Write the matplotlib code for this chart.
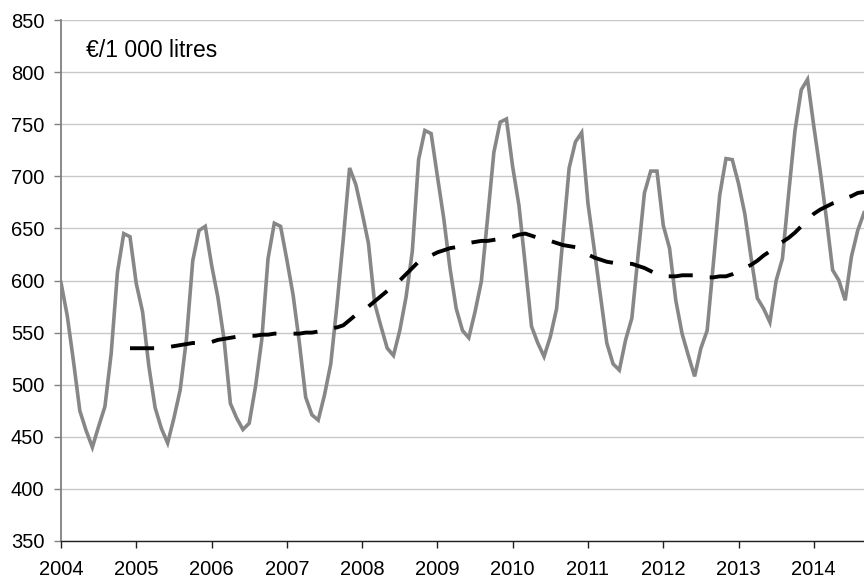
import matplotlib
matplotlib.use("Agg")
import matplotlib.pyplot as plt
import numpy as np

plt.rcParams['font.family'] = ['Liberation Sans', 'DejaVu Sans']

# Monthly price, €/1 000 litres, from Jan 2004
price = [
    598, 566, 522, 475, 456, 440, 460, 479, 530, 608, 645, 642,   # 2004
    597, 570, 518, 478, 458, 444, 468, 495, 544, 619, 648, 652,   # 2005
    615, 584, 543, 482, 468, 457, 463, 498, 543, 621, 655, 652,   # 2006
    620, 586, 540, 488, 471, 466, 490, 520, 577, 640, 708, 692,   # 2007
    665, 636, 578, 556, 535, 528, 552, 584, 628, 716, 744, 741,   # 2008
    700, 660, 612, 573, 552, 545, 570, 599, 660, 723, 752, 755,   # 2009
    709, 672, 615, 556, 540, 527, 546, 573, 640, 708, 733, 742,   # 2010
    674, 630, 585, 540, 520, 514, 543, 564, 625, 684, 705, 705,   # 2011
    653, 631, 581, 549, 528, 508, 535, 552, 617, 682, 717, 716,   # 2012
    693, 664, 622, 583, 573, 560, 600, 621, 684, 744, 783, 793,   # 2013
    748, 706, 660, 610, 600, 581, 623, 648, 665,                  # 2014
]

# 12-month trend, starting Dec 2004 (month index 11)
trend_start = 11
trend = [
    535,                                                          # Dec 2004
    535, 535, 535, 535, 536, 536, 537, 538, 539, 540, 540, 541,   # 2005
    541, 543, 544, 545, 546, 546, 547, 547, 548, 548, 549, 549,   # 2006
    549, 549, 549, 550, 550, 551, 552, 554, 555, 557, 562, 567,   # 2007
    571, 575, 580, 585, 590, 595, 600, 606, 612, 618, 621, 624,   # 2008
    627, 629, 631, 632, 634, 636, 637, 638, 638, 639, 640, 641,   # 2009
    642, 644, 645, 643, 641, 639, 638, 636, 634, 633, 632, 628,   # 2010
    625, 622, 620, 618, 617, 616, 616, 616, 614, 612, 609, 606,   # 2011
    604, 604, 604, 605, 605, 605, 604, 603, 603, 604, 604, 606,   # 2012
    609, 612, 615, 619, 624, 628, 633, 637, 641, 646, 652, 658,   # 2013
    664, 668, 671, 674, 676, 679, 681, 684, 685,                  # 2014
]

years = ['2004', '2005', '2006', '2007', '2008', '2009',
         '2010', '2011', '2012', '2013', '2014']
unit_label = '€/1 000 litres'

W, H = 864, 583
fig = plt.figure(figsize=(W / 100, H / 100), dpi=100)
ax = fig.add_axes([61 / W, 1 - 541 / H, (W - 61) / W, (541 - 20) / H])

x_price = np.arange(len(price))
x_trend = np.arange(len(trend)) + trend_start

ax.plot(x_price, price, color='#878787', lw=2.6, solid_joinstyle='miter', zorder=3)
ax.plot(x_trend, trend, color='black', lw=2.8, dashes=(6.2, 4.4), zorder=4)

ax.set_xlim(0, 128)
ax.set_ylim(350, 850)
ax.set_yticks(np.arange(350, 851, 50))
ax.set_xticks(np.arange(len(years)) * 12)
ax.set_xticklabels(years)

ax.yaxis.grid(True, color='#c8c8c8', lw=1.0)
ax.set_axisbelow(True)

for s in ['top', 'right']:
    ax.spines[s].set_visible(False)
ax.spines['left'].set_color('#808080')
ax.spines['left'].set_linewidth(1.3)
ax.spines['bottom'].set_color('#202020')
ax.spines['bottom'].set_linewidth(1.0)

ax.tick_params(axis='y', direction='out', length=5, width=1, color='#808080',
               labelsize=14.5, pad=7, labelcolor='black')
ax.tick_params(axis='x', direction='out', length=5, width=1, color='#202020',
               labelsize=14.5, pad=9, labelcolor='black')

ax.text(4.0, 821, unit_label, fontsize=16.5, va='center', ha='left')

fig.savefig('out.png', dpi=100)
